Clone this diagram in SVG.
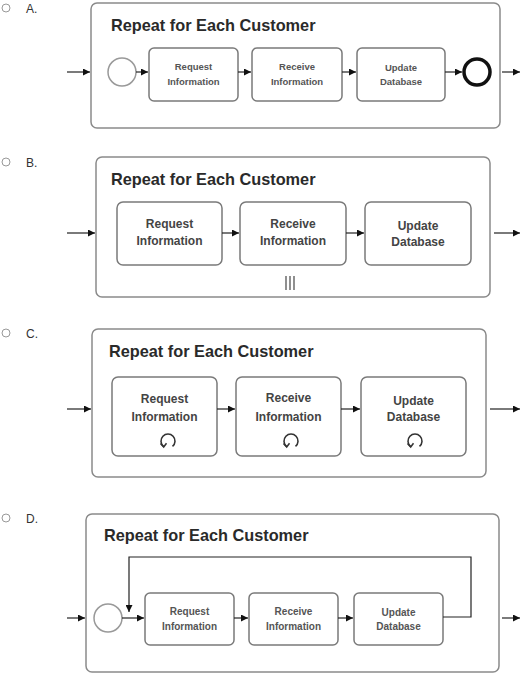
<svg xmlns="http://www.w3.org/2000/svg" width="527" height="674" viewBox="0 0 527 674">
<style>
.frame{fill:#fff;stroke:#8a8a8a;stroke-width:1.5}
.task{fill:#fff;stroke:#7a7a7a;stroke-width:1.5}
.title{font-family:"Liberation Sans",Arial,sans-serif;font-weight:bold;font-size:16.3px;fill:#2a2a2a}
.opt{font-family:"Liberation Sans",Arial,sans-serif;font-size:12px;fill:#333}
.radio{fill:#fff;stroke:#999;stroke-width:1}
.ts{font-family:"Liberation Sans",Arial,sans-serif;font-weight:bold;font-size:9.5px;fill:#555;text-anchor:middle}
.td{font-family:"Liberation Sans",Arial,sans-serif;font-weight:bold;font-size:10px;fill:#555;text-anchor:middle}
.tm{font-family:"Liberation Sans",Arial,sans-serif;font-weight:bold;font-size:12px;fill:#444;text-anchor:middle}
.flow{stroke:#222;stroke-width:1.2;fill:none}
.start{fill:#fff;stroke:#999;stroke-width:1.5}
.end{fill:#fff;stroke:#111;stroke-width:3.5}
.mark{stroke:#555;stroke-width:1.3;fill:none}
</style>
<defs>
<marker id="ah" viewBox="0 0 10 10" refX="10" refY="5" markerWidth="7" markerHeight="7" markerUnits="userSpaceOnUse" orient="auto">
<path d="M0,0 L10,5 L0,10 z" fill="#111"/>
</marker>
<g id="loopicon">
<path d="M-4.5,5.4 A7,7 0 1 1 4.5,5.4" fill="none" stroke="#333" stroke-width="1.6"/>
<path d="M-7.5,2.5 L-4.3,6 L-1.5,2.2" fill="none" stroke="#333" stroke-width="1.5"/>
</g>
</defs>

<!-- Option A -->
<g id="optionA">
<circle class="radio" cx="6" cy="8" r="4"/>
<text class="opt" x="26" y="13">A.</text>
<rect class="frame" x="91" y="3" width="409" height="125" rx="6"/>
<text class="title" x="111" y="31">Repeat for Each Customer</text>
</g>
<g id="A-start"><circle class="start" cx="122" cy="72" r="14"/></g>
<g id="A-request"><rect class="task" x="149" y="48" width="89" height="53" rx="5"/><text class="ts" x="193.5" y="70">Request</text><text class="ts" x="193.5" y="85">Information</text></g>
<g id="A-receive"><rect class="task" x="252" y="48" width="90" height="53" rx="5"/><text class="ts" x="297" y="70">Receive</text><text class="ts" x="297" y="85">Information</text></g>
<g id="A-update"><rect class="task" x="357" y="48" width="88" height="53" rx="5"/><text class="ts" x="401" y="71">Update</text><text class="ts" x="401" y="85">Database</text></g>
<g id="A-end"><circle class="end" cx="477" cy="72" r="13"/></g>

<!-- Option B -->
<g id="optionB">
<circle class="radio" cx="6" cy="162" r="4"/>
<text class="opt" x="26" y="167">B.</text>
<rect class="frame" x="96" y="157" width="394" height="140" rx="6"/>
<text class="title" x="111" y="185">Repeat for Each Customer</text>
<path class="mark" d="M286,276 V290 M290,276 V290 M294,276 V290"/>
</g>
<g id="B-request"><rect class="task" x="117" y="202" width="105" height="63" rx="6"/><text class="tm" x="169.5" y="228">Request</text><text class="tm" x="169.5" y="245">Information</text></g>
<g id="B-receive"><rect class="task" x="240" y="202" width="106" height="63" rx="6"/><text class="tm" x="293" y="228">Receive</text><text class="tm" x="293" y="245">Information</text></g>
<g id="B-update"><rect class="task" x="365" y="202" width="106" height="63" rx="6"/><text class="tm" x="418" y="230">Update</text><text class="tm" x="418" y="246">Database</text></g>

<!-- Option C -->
<g id="optionC">
<circle class="radio" cx="6" cy="333" r="4"/>
<text class="opt" x="26" y="338">C.</text>
<rect class="frame" x="92" y="329" width="394" height="148" rx="6"/>
<text class="title" x="109" y="357">Repeat for Each Customer</text>
</g>
<g id="C-request"><rect class="task" x="112" y="377" width="105" height="79" rx="6"/><text class="tm" x="164.5" y="403">Request</text><text class="tm" x="164.5" y="421">Information</text><use href="#loopicon" x="168" y="441"/></g>
<g id="C-receive"><rect class="task" x="236" y="377" width="105" height="79" rx="6"/><text class="tm" x="288.5" y="402">Receive</text><text class="tm" x="288.5" y="421">Information</text><use href="#loopicon" x="291" y="441"/></g>
<g id="C-update"><rect class="task" x="361" y="377" width="105" height="79" rx="6"/><text class="tm" x="413.5" y="405">Update</text><text class="tm" x="413.5" y="421">Database</text><use href="#loopicon" x="415" y="441"/></g>

<!-- Option D -->
<g id="optionD">
<circle class="radio" cx="6" cy="518" r="4"/>
<text class="opt" x="26" y="523">D.</text>
<rect class="frame" x="86" y="514" width="413" height="158" rx="6"/>
<text class="title" x="104" y="541">Repeat for Each Customer</text>
</g>
<g id="D-start"><circle class="start" cx="108" cy="618" r="14"/></g>
<g id="D-request"><rect class="task" x="145" y="593" width="89" height="52" rx="5"/><text class="td" x="189.5" y="615">Request</text><text class="td" x="189.5" y="630">Information</text></g>
<g id="D-receive"><rect class="task" x="249" y="593" width="89" height="52" rx="5"/><text class="td" x="293.5" y="615">Receive</text><text class="td" x="293.5" y="630">Information</text></g>
<g id="D-update"><rect class="task" x="354" y="593" width="89" height="52" rx="5"/><text class="td" x="398.5" y="616">Update</text><text class="td" x="398.5" y="630">Database</text></g>

<g id="connectors">
<!-- A -->
<path class="flow" d="M67,72 H90" marker-end="url(#ah)"/>
<path class="flow" d="M136,72 H148" marker-end="url(#ah)"/>
<path class="flow" d="M238,72 H251" marker-end="url(#ah)"/>
<path class="flow" d="M342,72 H356" marker-end="url(#ah)"/>
<path class="flow" d="M445,72 H462" marker-end="url(#ah)"/>
<path class="flow" d="M502,72 H520" marker-end="url(#ah)"/>
<!-- B -->
<path class="flow" d="M67,233 H95" marker-end="url(#ah)"/>
<path class="flow" d="M222,233 H239" marker-end="url(#ah)"/>
<path class="flow" d="M346,233 H364" marker-end="url(#ah)"/>
<path class="flow" d="M494,233 H520" marker-end="url(#ah)"/>
<!-- C -->
<path class="flow" d="M67,409 H91" marker-end="url(#ah)"/>
<path class="flow" d="M217,409 H235" marker-end="url(#ah)"/>
<path class="flow" d="M341,409 H360" marker-end="url(#ah)"/>
<path class="flow" d="M490,409 H520" marker-end="url(#ah)"/>
<!-- D -->
<path class="flow" d="M67,618 H85" marker-end="url(#ah)"/>
<path class="flow" d="M122,618 H144" marker-end="url(#ah)"/>
<path class="flow" d="M234,618 H248" marker-end="url(#ah)"/>
<path class="flow" d="M338,618 H353" marker-end="url(#ah)"/>
<path class="flow" d="M443,617 H471 V557 H129 V612" marker-end="url(#ah)"/>
<path class="flow" d="M502,618 H520" marker-end="url(#ah)"/>
</g>
</svg>
